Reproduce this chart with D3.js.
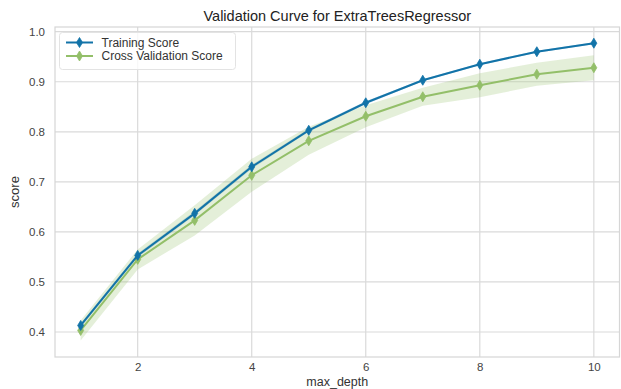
<!DOCTYPE html>
<html>
<head>
<meta charset="utf-8">
<script src="https://cdn.jsdelivr.net/npm/d3@7"></script>
<style>
  html, body { margin: 0; padding: 0; background: #fff; }
  svg { display: block; font-family: "Liberation Sans", Arial, sans-serif; }
</style>
</head>
<body>
<svg id="chart" width="621" height="389"></svg>
<script>
// ---- data ----
const maxDepth = [1, 2, 3, 4, 5, 6, 7, 8, 9, 10];
const trainScore = [0.413, 0.553, 0.637, 0.730, 0.803, 0.858, 0.903, 0.935, 0.960, 0.977];
const trainStd   = [0.004, 0.004, 0.004, 0.004, 0.003, 0.003, 0.002, 0.002, 0.002, 0.002];
const cvScore    = [0.403, 0.545, 0.623, 0.713, 0.782, 0.831, 0.870, 0.893, 0.915, 0.928];
const cvStd      = [0.020, 0.020, 0.030, 0.033, 0.028, 0.022, 0.018, 0.024, 0.023, 0.025];
const xTicks = [2, 4, 6, 8, 10];
const yTicks = [0.4, 0.5, 0.6, 0.7, 0.8, 0.9, 1.0];
const titleText = "Validation Curve for ExtraTreesRegressor";
const xLabel = "max_depth";
const yLabel = "score";
const seriesNames = ["Training Score", "Cross Validation Score"];

// ---- layout ----
const svg = d3.select("#chart");
const mLeft = 55, mRight = 619.5, mTop = 27, mBottom = 357;
const blue = "#1273a8", green = "#93bf69";

const x = d3.scaleLinear().domain([0.55, 10.45]).range([mLeft, mRight]);
const y = d3.scaleLinear().domain([0.35, 1.0094]).range([mBottom, mTop]);

// grid
const grid = svg.append("g");
grid.selectAll(".gx").data(xTicks).join("line")
  .attr("x1", d => x(d)).attr("x2", d => x(d))
  .attr("y1", mTop).attr("y2", mBottom)
  .attr("stroke", "#dadada").attr("stroke-width", 1.2);
grid.selectAll(".gy").data(yTicks).join("line")
  .attr("x1", mLeft).attr("x2", mRight)
  .attr("y1", d => y(d)).attr("y2", d => y(d))
  .attr("stroke", "#dadada").attr("stroke-width", 1.2);

// frame
svg.append("rect").attr("x", mLeft).attr("y", mTop)
  .attr("width", mRight - mLeft).attr("height", mBottom - mTop)
  .attr("fill", "none").attr("stroke", "#d6d6d6").attr("stroke-width", 1.2);

// axes (labels only)
const xAxis = svg.append("g").attr("transform", `translate(0,${mBottom})`)
  .call(d3.axisBottom(x).tickValues(xTicks).tickSize(0).tickPadding(6).tickFormat(d3.format("d")));
const yAxis = svg.append("g").attr("transform", `translate(${mLeft},0)`)
  .call(d3.axisLeft(y).tickValues(yTicks).tickSize(0).tickPadding(10).tickFormat(d3.format(".1f")));
[xAxis, yAxis].forEach(a => {
  a.select(".domain").remove();
  a.selectAll("text").attr("fill", "#444").attr("font-size", 11.5)
    .attr("font-family", "'Liberation Sans', Arial, sans-serif");
});

// bands
const area = (m, s) => d3.area()
  .x((d, i) => x(maxDepth[i]))
  .y0((d, i) => y(m[i] - s[i]))
  .y1((d, i) => y(m[i] + s[i]));
svg.append("path").datum(maxDepth).attr("d", area(trainScore, trainStd))
  .attr("fill", blue).attr("fill-opacity", 0.25);
svg.append("path").datum(maxDepth).attr("d", area(cvScore, cvStd))
  .attr("fill", green).attr("fill-opacity", 0.25);

// lines + markers
const diamond = "M0,-5L3,0L0,5L-3,0Z";
function drawSeries(vals, color) {
  const line = d3.line().x((d, i) => x(maxDepth[i])).y(d => y(d));
  svg.append("path").datum(vals).attr("d", line)
    .attr("fill", "none").attr("stroke", color).attr("stroke-width", 2);
  svg.append("g").selectAll("path").data(vals).join("path")
    .attr("d", diamond)
    .attr("transform", (d, i) => `translate(${x(maxDepth[i])},${y(d)})`)
    .attr("fill", color).attr("stroke", color).attr("stroke-width", 0.8);
}
drawSeries(cvScore, green);
drawSeries(trainScore, blue);

// legend
const lg = svg.append("g");
lg.append("rect").attr("x", 59.5).attr("y", 32.5).attr("width", 176).attr("height", 37)
  .attr("rx", 3).attr("fill", "#fff").attr("fill-opacity", 0.8)
  .attr("stroke", "#e3e3e3");
[blue, green].forEach((c, i) => {
  const yy = 42.5 + i * 13.5;
  lg.append("line").attr("x1", 66).attr("x2", 93).attr("y1", yy).attr("y2", yy)
    .attr("stroke", c).attr("stroke-width", 2);
  lg.append("path").attr("d", diamond).attr("transform", `translate(79.5,${yy})`)
    .attr("fill", c).attr("stroke", c).attr("stroke-width", 0.8);
  lg.append("text").attr("x", 101.5).attr("y", yy + 4).text(seriesNames[i])
    .attr("font-size", 12).attr("fill", "#333");
});

// titles
svg.append("text").attr("x", (mLeft + mRight) / 2).attr("y", 21)
  .attr("text-anchor", "middle").attr("font-size", 14.5).attr("fill", "#222")
  .text(titleText);
svg.append("text").attr("x", (mLeft + mRight) / 2).attr("y", 385.5)
  .attr("text-anchor", "middle").attr("font-size", 12.5).attr("fill", "#333")
  .text(xLabel);
svg.append("text").attr("transform", `translate(19,${(mTop + mBottom) / 2}) rotate(-90)`)
  .attr("text-anchor", "middle").attr("font-size", 13).attr("fill", "#333")
  .text(yLabel);
</script>
</body>
</html>
